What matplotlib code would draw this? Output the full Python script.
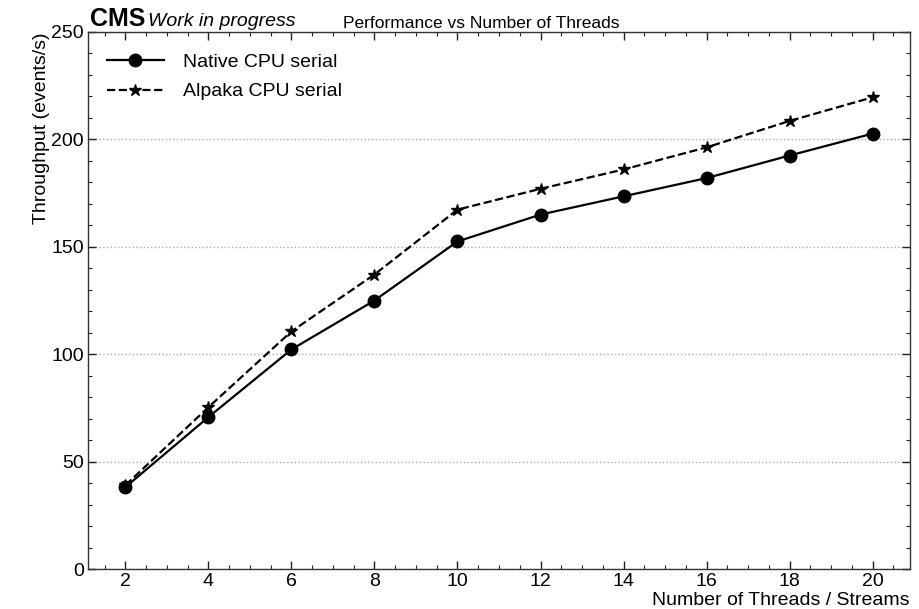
import matplotlib
matplotlib.use("Agg")
import matplotlib.pyplot as plt
from matplotlib.ticker import MultipleLocator

threads = [2, 4, 6, 8, 10, 12, 14, 16, 18, 20]
native_cpu = [38.1, 70.7, 102.2, 125.0, 152.5, 165.0, 173.5, 182.0, 192.5, 202.7]
alpaka_cpu = [39.0, 75.3, 110.6, 137.1, 167.3, 177.0, 186.0, 196.3, 208.6, 219.6]
xticks = [2, 4, 6, 8, 10, 12, 14, 16, 18, 20]
yticks = [0, 50, 100, 150, 200, 250]

plt.rcParams['font.family'] = ['Liberation Sans', 'DejaVu Sans']

fig = plt.figure(figsize=(9.2, 6.09), dpi=100)
ax = fig.add_axes([88/920, 1 - 569/609, (910-88)/920, (569-32)/609])

ax.plot(threads, native_cpu, '-', color='black', lw=1.6, marker='o', markersize=9,
        label='Native CPU serial')
ax.plot(threads, alpaka_cpu, '--', color='black', lw=1.6, marker='*', markersize=9,
        label='Alpaka CPU serial')

ax.set_ylim(0, 250)
ax.margins(x=0.05)
ax.set_xticks(xticks)
ax.set_yticks(yticks)
ax.xaxis.set_minor_locator(MultipleLocator(0.5))
ax.yaxis.set_minor_locator(MultipleLocator(10))
ax.tick_params(which='both', direction='in', top=True, right=True, labelsize=14, colors='#222222')
ax.tick_params(which='major', length=6, width=1)
ax.tick_params(which='minor', length=3, width=0.8)
ax.tick_params(axis='x', pad=3)
ax.tick_params(axis='y', pad=3)
for lab in ax.get_xticklabels() + ax.get_yticklabels():
    lab.set_color('black')
for s in ax.spines.values():
    s.set_linewidth(1.0)
    s.set_color('#333333')

ax.grid(axis='y', which='major', linestyle=':', color='#aaaaaa', linewidth=1)
ax.set_axisbelow(True)

ax.set_xlabel('Number of Threads / Streams', fontsize=14, loc='right', labelpad=1)
ax.set_ylabel('Throughput (events/s)', fontsize=14, loc='top', labelpad=1)

leg = ax.legend(loc='upper left', frameon=False, fontsize=14, handlelength=2.9,
                handletextpad=1.0, labelspacing=0.62, borderaxespad=0.0,
                bbox_to_anchor=(0.014, 0.975))

ax.text(0.002, 1.011, 'CMS', transform=ax.transAxes, fontsize=18, fontweight='bold',
        ha='left', va='baseline')
ax.text(0.073, 1.011, 'Work in progress', transform=ax.transAxes, fontsize=14,
        style='italic', ha='left', va='baseline')
fig.text(481/920, 1 - 28.5/609, 'Performance vs Number of Threads', fontsize=12.5,
         ha='center', va='baseline')

fig.savefig('out.png', dpi=100)
